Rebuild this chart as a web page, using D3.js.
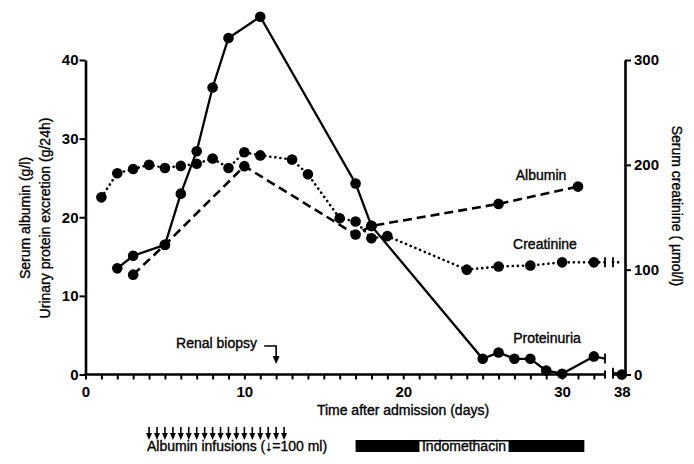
<!DOCTYPE html>
<html>
<head>
<meta charset="utf-8">
<script src="https://cdn.jsdelivr.net/npm/d3@7"></script>
<style>
    body { margin: 0; background: #fff; }
    svg { font-family: "Liberation Sans", Arial, Helvetica, sans-serif; }
</style>
</head>
<body>
<div id="chart"></div>
<script>
// values
const proteinDays = [2, 3, 5, 6, 7, 8, 9, 11, 17, 18, 25, 26, 27, 28, 29, 30, 32, 38];
const proteinValues = [13.5, 15.1, 16.5, 23.0, 28.4, 36.5, 42.8, 45.5, 24.3, 18.9, 2.0, 2.8, 2.0, 2.0, 0.5, 0.1, 2.3, 0];

const albuminDays = [3, 5, 10, 17, 18, 26, 31];
const albuminValues = [12.7, 16.5, 26.5, 17.8, 18.9, 21.7, 23.9];

const creatDays = [1, 2, 3, 4, 5, 6, 7, 8, 9, 10, 11, 13, 14, 16, 17, 18, 19, 24, 26, 28, 30, 32, 38];
const creatValues = [169, 192, 196, 200, 197, 199, 201, 206, 197, 212, 209, 205, 191, 149, 146, 130, 132, 100, 103, 104, 107, 107, 107];
const creatMarkerLast = 32; // no dot drawn after the break

const xLabels = [0, 10, 20, 30, 38];
const leftTicks = [0, 10, 20, 30, 40];
const rightTicks = [0, 100, 200, 300];

const breakFrom = 32.7;
const breakTo = 37.45;

const renalBiopsyDay = 12;
const infusionDays = [4, 4.5, 5, 5.5, 6, 6.5, 7, 7.5, 8, 8.5, 9, 9.5, 10, 10.5, 11, 11.5, 12, 12.5];
const indomethacin = [17, 31.4];

const width = 694, height = 464;

const svg = d3.select("#chart").append("svg")
    .attr("width", width)
    .attr("height", height);

// broken time axis: 0..32.7, then 37.45..38.2
const x = d3.scaleLinear()
    .domain([0, breakFrom, breakTo, 38.2])
    .range([85.5, 605, 613, 625]);
const yL = d3.scaleLinear().domain([0, 40]).range([374.5, 60]);
const yR = d3.scaleLinear().domain([0, 300]).range([374.5, 60]);

// ---- axes
const xAxis = d3.axisBottom(x)
    .tickValues(d3.range(0, 33).concat([38]))
    .tickSize(5)
    .tickPadding(7)
    .tickFormat(d => xLabels.includes(d) ? d : "");

const gx = svg.append("g")
    .attr("transform", `translate(0,${yL(0)})`)
    .call(xAxis);
gx.select(".domain").remove();

const axisLines = svg.append("g")
    .attr("stroke", "#000")
    .attr("stroke-width", 2.6);
axisLines.append("line")
    .attr("x1", x(0) - 1).attr("x2", x(breakFrom))
    .attr("y1", yL(0)).attr("y2", yL(0));
axisLines.append("line")
    .attr("x1", x(breakTo)).attr("x2", x(38.2) + 1)
    .attr("y1", yL(0)).attr("y2", yL(0));
// break end caps on the time axis
[breakFrom, breakTo].forEach(d => {
    axisLines.append("line")
        .attr("x1", x(d)).attr("x2", x(d))
        .attr("y1", yL(0) - 4).attr("y2", yL(0) + 4)
        .attr("stroke-width", 2);
});

svg.append("g")
    .attr("transform", `translate(${x(0)},0)`)
    .call(d3.axisLeft(yL).tickValues(leftTicks).tickSize(6).tickPadding(1).tickSizeOuter(0));

svg.append("g")
    .attr("transform", `translate(${x(38.2)},0)`)
    .call(d3.axisRight(yR).tickValues(rightTicks).tickSize(6).tickPadding(3).tickSizeOuter(0));

svg.selectAll(".tick text")
    .attr("font-family", "'Liberation Sans', Arial, sans-serif")
    .attr("font-size", 15)
    .attr("font-weight", "bold")
    .attr("fill", "#000");
svg.selectAll(".tick line").attr("stroke", "#000").attr("stroke-width", 2);
svg.selectAll(".domain").attr("stroke", "#000").attr("stroke-width", 2.6);

// ---- series
function series(days, values, yScale, style, markerMax) {
    const pts = days.map((d, i) => ({ d: d, v: values[i] }));
    const before = pts.filter(p => p.d <= 32);
    const after = pts.filter(p => p.d > 32);
    const last = before[before.length - 1];

    const line = d3.line().x(p => x(p.d)).y(p => yScale(p.v));
    const g = svg.append("g");

    const segs = [before];
    if (after.length) {
        const next = after[0];
        const at = d => last.v + (next.v - last.v) * (d - last.d) / (next.d - last.d);
        segs[0] = before.concat([{ d: breakFrom, v: at(breakFrom) }]);
        segs.push([{ d: breakTo, v: at(breakTo) }].concat(after));
        [breakFrom, breakTo].forEach(d => {
            g.append("line")
                .attr("x1", x(d)).attr("x2", x(d))
                .attr("y1", yScale(at(d)) - 5).attr("y2", yScale(at(d)) + 5)
                .attr("stroke", "#000").attr("stroke-width", 1.8);
        });
    }

    segs.forEach(s => {
        g.append("path")
            .datum(s)
            .attr("d", line)
            .attr("fill", "none")
            .attr("stroke", "#000")
            .attr("stroke-width", style.w)
            .attr("stroke-dasharray", style.dash)
            .attr("stroke-linecap", style.cap);
    });

    g.selectAll("circle")
        .data(pts.filter(p => p.d <= markerMax))
        .enter()
        .append("circle")
        .attr("cx", p => x(p.d))
        .attr("cy", p => yScale(p.v))
        .attr("r", 5.3)
        .attr("fill", "#000");
}

series(creatDays, creatValues, yR, { w: 2.6, dash: "0.1 5", cap: "round" }, creatMarkerLast);
series(albuminDays, albuminValues, yL, { w: 2.6, dash: "9 5", cap: "butt" }, 40);
series(proteinDays, proteinValues, yL, { w: 2.3, dash: null, cap: "butt" }, 40);

// ---- labels (a thin stroke thickens them like the printed figure)
const labelStyle = sel => sel
    .attr("font-size", 14)
    .attr("fill", "#000")
    .attr("stroke", "#000")
    .attr("stroke-width", 0.35);

svg.append("text").attr("x", 541).attr("y", 180).attr("text-anchor", "middle").text("Albumin").call(labelStyle);
svg.append("text").attr("x", 545).attr("y", 249).attr("text-anchor", "middle").text("Creatinine").call(labelStyle);
svg.append("text").attr("x", 547).attr("y", 343).attr("text-anchor", "middle").text("Proteinuria").call(labelStyle);

svg.append("text")
    .attr("transform", "translate(30,218) rotate(-90)")
    .attr("text-anchor", "middle")
    .text("Serum albumin (g/l)").call(labelStyle);
svg.append("text")
    .attr("transform", "translate(50,218) rotate(-90)")
    .attr("text-anchor", "middle")
    .text("Urinary protein excretion (g/24h)").call(labelStyle);
svg.append("text")
    .attr("transform", "translate(672,206) rotate(90)")
    .attr("text-anchor", "middle")
    .text("Serum creatinine ( \u00b5mol/l)").call(labelStyle);
svg.append("text")
    .attr("x", 403).attr("y", 415)
    .attr("text-anchor", "middle")
    .text("Time after admission (days)").call(labelStyle);

// renal biopsy marker
const bx = x(renalBiopsyDay);
svg.append("text").attr("x", 257).attr("y", 348).attr("text-anchor", "end").text("Renal biopsy").call(labelStyle);
svg.append("path")
    .attr("d", `M${bx - 12},346H${bx}V358`)
    .attr("fill", "none").attr("stroke", "#000").attr("stroke-width", 1.6);
svg.append("path")
    .attr("d", `M${bx - 3.5},356L${bx + 3.5},356L${bx},364Z`)
    .attr("fill", "#000");

// albumin infusions
const arrows = svg.append("g");
arrows.selectAll("line")
    .data(infusionDays)
    .enter()
    .append("line")
    .attr("x1", d => x(d)).attr("x2", d => x(d))
    .attr("y1", 427).attr("y2", 436)
    .attr("stroke", "#000").attr("stroke-width", 1.6);
arrows.selectAll("path")
    .data(infusionDays)
    .enter()
    .append("path")
    .attr("d", d => `M${x(d) - 3},433L${x(d) + 3},433L${x(d)},440Z`)
    .attr("fill", "#000");
svg.append("text").attr("x", 147).attr("y", 451).text("Albumin infusions (\u2193=100 ml)").call(labelStyle);

// indomethacin bar with the label on a white patch
svg.append("rect")
    .attr("x", x(indomethacin[0]))
    .attr("y", 440)
    .attr("width", x(indomethacin[1]) - x(indomethacin[0]))
    .attr("height", 12)
    .attr("fill", "#000");
const indoBox = svg.append("rect").attr("fill", "#ffffff");
const indoText = svg.append("text")
    .attr("x", 464).attr("y", 450.5)
    .attr("text-anchor", "middle")
    .text("Indomethacin").call(labelStyle);
const tw = indoText.node().getComputedTextLength();
indoBox
    .attr("x", 464 - tw / 2 - 2.5).attr("y", 441.5)
    .attr("width", tw + 5).attr("height", 10.5);
</script>
</body>
</html>
